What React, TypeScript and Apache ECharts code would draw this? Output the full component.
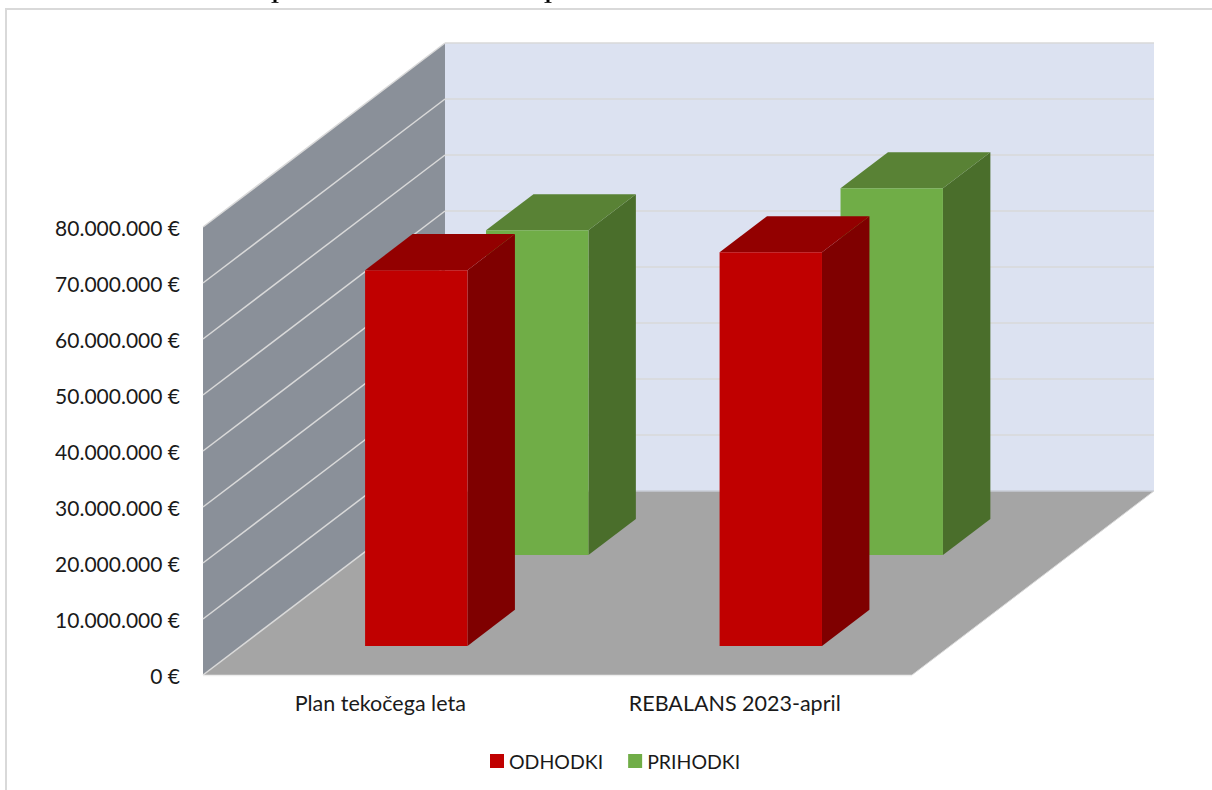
import React, { useEffect, useRef } from "react";
import * as echarts from "echarts";

const categories = ["Plan tekočega leta", "REBALANS 2023-april"];
const odhodki = [67100000, 70300000];
const prihodki = [58000000, 65500000];
const ticks = [0, 10000000, 20000000, 30000000, 40000000, 50000000, 60000000, 70000000, 80000000];
const FONT = "Lato";

const DX = 242;
const DY = -184;

const formatEuro = (v: number) => String(v).replace(/\B(?=(\d{3})+(?!\d))/g, ".") + " €";

const barSeries = (name: string, values: number[], zFront: number, zBack: number, shift: number, front: string, top: string, side: string, z: number) => ({
  name,
  type: "custom",
  z,
  clip: false,
  coordinateSystem: "cartesian2d",
  itemStyle: { color: front },
  data: values.map((v, i) => [i, v]),
  encode: { x: 0, y: 1 },
  renderItem: (_p: any, api: any) => {
    const cat = api.value(0);
    const base = api.coord([cat, 0]);
    const head = api.coord([cat, api.value(1)]);
    const halfW = 51.2;
    const ox = DX * zFront + shift;
    const oy = DY * zFront;
    const dx = DX * (zBack - zFront);
    const dy = DY * (zBack - zFront);
    const l = base[0] - halfW + ox;
    const r = base[0] + halfW + ox;
    const b = base[1] + oy;
    const t = head[1] + oy;
    return {
      type: "group",
      children: [
        { type: "polygon", shape: { points: [[r, b], [r + dx, b + dy], [r + dx, t + dy], [r, t]] }, style: { fill: side } },
        { type: "polygon", shape: { points: [[l, t], [r, t], [r + dx, t + dy], [l + dx, t + dy]] }, style: { fill: top } },
        { type: "rect", shape: { x: l, y: t, width: r - l, height: b - t }, style: { fill: front } },
      ],
    };
  },
});

const wallsSeries = {
  type: "custom",
  z: 1,
  clip: false,
  silent: true,
  coordinateSystem: "cartesian2d",
  data: ticks.map((t) => [0, t]),
  encode: { y: 1 },
  renderItem: (p: any, api: any) => {
    const v = api.value(1);
    const y = api.coord([0, v])[1];
    const cs = p.coordSys;
    const x0 = cs.x;
    const x1 = cs.x + cs.width;
    const children: any[] = [];
    if (v === 0) {
      const top = cs.y;
      children.push(
        { type: "polygon", shape: { points: [[x0 + DX, top + DY], [x1 + DX, top + DY], [x1 + DX, y + DY], [x0 + DX, y + DY]] }, style: { fill: "#DCE2F1" } },
        { type: "polygon", shape: { points: [[x0, top], [x0 + DX, top + DY], [x0 + DX, y + DY], [x0, y]] }, style: { fill: "#8A9099" } },
        { type: "polygon", shape: { points: [[x0, y], [x0 + DX, y + DY], [x1 + DX, y + DY], [x1, y]] }, style: { fill: "#A5A5A5" } },
        { type: "line", shape: { x1: x0, y1: y, x2: x0 + DX, y2: y + DY }, style: { stroke: "#D9D9D9", lineWidth: 1.5 } },
        { type: "line", shape: { x1: x0, y1: y + 0.5, x2: x1, y2: y + 0.5 }, style: { stroke: "#EDEDED", lineWidth: 1.5 } },
        { type: "line", shape: { x1: x0 + DX, y1: y + DY, x2: x1 + DX, y2: y + DY }, style: { stroke: "#C9CDD6", lineWidth: 1.5 } },
        { type: "line", shape: { x1: x1 + DX, y1: y + DY, x2: x1, y2: y }, style: { stroke: "#D9D9D9", lineWidth: 1 } }
      );
    } else {
      children.push(
        { type: "line", shape: { x1: x0, y1: y, x2: x0 + DX, y2: y + DY }, style: { stroke: "#D9D9D9", lineWidth: 1.5 } },
        { type: "line", shape: { x1: x0 + DX, y1: y + DY, x2: x1 + DX, y2: y + DY }, style: { stroke: "#D9D9D9", lineWidth: 1.5 } }
      );
    }
    return { type: "group", children };
  },
};

// The reference's page crops an illegible line of text above the frame: only two descender feet remain.
const cutFoot = (cx: number) => ({
  type: "group",
  silent: true,
  children: [
    { type: "rect", shape: { x: cx - 1.5, y: 0, width: 3, height: 2 }, style: { fill: "#000000" } },
    { type: "rect", shape: { x: cx - 3.5, y: 2, width: 7, height: 1 }, style: { fill: "#333333" } },
  ],
});

export default function App() {
  const ref = useRef<HTMLDivElement>(null);
  useEffect(() => {
    const chart = echarts.init(ref.current!, null, { renderer: "svg" });
    chart.setOption({
      animation: false,
      backgroundColor: "#FFFFFF",
      grid: { left: 203, top: 227, width: 709, height: 448, containLabel: false },
      xAxis: {
        type: "category",
        data: categories,
        axisLine: { show: false },
        axisTick: { show: false },
        axisLabel: { fontFamily: FONT, fontSize: 21.5, color: "#1A1A1A", margin: 17 },
      },
      yAxis: {
        type: "value",
        min: 0,
        max: 80000000,
        interval: 10000000,
        axisLine: { show: false },
        axisTick: { show: false },
        splitLine: { show: false },
        axisLabel: { fontFamily: FONT, fontSize: 21, color: "#1A1A1A", margin: 23, formatter: formatEuro },
      },
      legend: {
        data: ["ODHODKI", "PRIHODKI"],
        left: 490,
        top: 751,
        itemWidth: 14,
        itemHeight: 14,
        itemGap: 25,
        icon: "rect",
        textStyle: { fontFamily: FONT, fontSize: 19.5, color: "#1A1A1A", padding: [0, 0, 0, 0] },
        padding: 0,
      },
      graphic: [
        { type: "rect", shape: { x: 6, y: 9, width: 1300, height: 900 }, style: { fill: "none", stroke: "#D9D9D9", lineWidth: 2 }, silent: true, z: 0 },
        cutFoot(275),
        cutFoot(548),
      ],
      series: [
        wallsSeries,
        barSeries("PRIHODKI", prihodki, 0.652, 0.848, -0.8, "#70AD47", "#598235", "#4A6E2B", 2),
        barSeries("ODHODKI", odhodki, 0.158, 0.354, -2.2, "#C00000", "#930000", "#7F0000", 3),
      ],
    });
    return () => chart.dispose();
  }, []);
  return <div ref={ref} style={{ position: "absolute", left: 0, top: 0, width: 1212, height: 790 }} />;
}
